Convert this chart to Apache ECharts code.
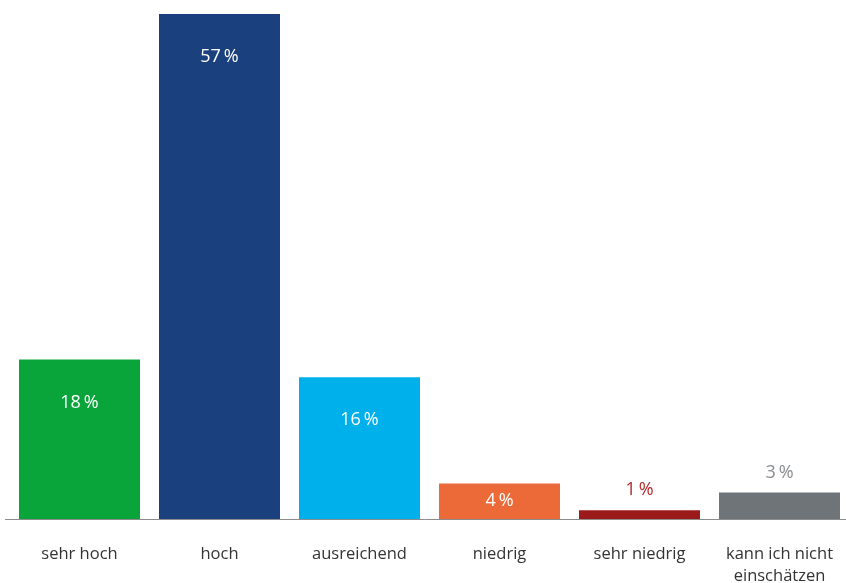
<!DOCTYPE html>
<html>
<head>
<meta charset="utf-8">
<script src="https://cdn.jsdelivr.net/npm/echarts@6/dist/echarts.min.js"></script>
<style>
  html, body { margin: 0; padding: 0; background: #fff; }
  #chart { width: 846px; height: 583px; }
</style>
</head>
<body>
<div id="chart"></div>
<script>
// Ratings and their share in percent
const categories = ['sehr hoch', 'hoch', 'ausreichend', 'niedrig', 'sehr niedrig', 'kann ich nicht\neinschätzen'];
const shares = [18, 57, 16, 4, 1, 3];
const barColors = ['#0aa53a', '#1a417d', '#00b0ea', '#ec6a37', '#9b1b1b', '#6f7478'];
// where each value label sits: inside near the top, centred, or above the bar
const labelPlacement = ['insideTop', 'insideTop', 'insideTop', 'inside', 'top', 'top'];
const labelColors = ['#ffffff', '#ffffff', '#ffffff', '#ffffff', '#b3282d', '#8a8d90'];

const FONT = '"Open Sans", "Noto Sans", sans-serif';

const chart = echarts.init(document.getElementById('chart'), null, { renderer: 'canvas' });

const data = shares.map((v, i) => ({
  value: v,
  itemStyle: { color: barColors[i] },
  label: {
    position: labelPlacement[i],
    distance: labelPlacement[i] === 'insideTop' ? 34 : 11,
    color: labelColors[i]
  }
}));

chart.setOption({
  animation: false,
  backgroundColor: '#ffffff',
  grid: { left: 9.5, right: -3.5, top: 14, bottom: 64, containLabel: false, outerBoundsMode: 'none' },
  xAxis: {
    type: 'category',
    data: categories,
    axisLine: { show: false },
    axisTick: { show: false },
    axisLabel: {
      margin: 24,
      fontFamily: FONT,
      fontSize: 16.5,
      color: '#333333',
      lineHeight: 22,
      interval: 0
    }
  },
  yAxis: {
    type: 'value',
    min: 0,
    max: 57,
    show: false,
    splitLine: { show: false }
  },
  graphic: [{
    type: 'line',
    shape: { x1: 5, y1: 519.5, x2: 846, y2: 519.5 },
    style: { stroke: '#8c8c8c', lineWidth: 1 },
    z: 10
  }],
  series: [{
    type: 'bar',
    data: data,
    barWidth: 121,
    label: {
      show: true,
      formatter: p => p.value + '\u2009%',
      fontFamily: FONT,
      fontSize: 18,
      lineHeight: 18
    }
  }]
});
</script>
</body>
</html>
